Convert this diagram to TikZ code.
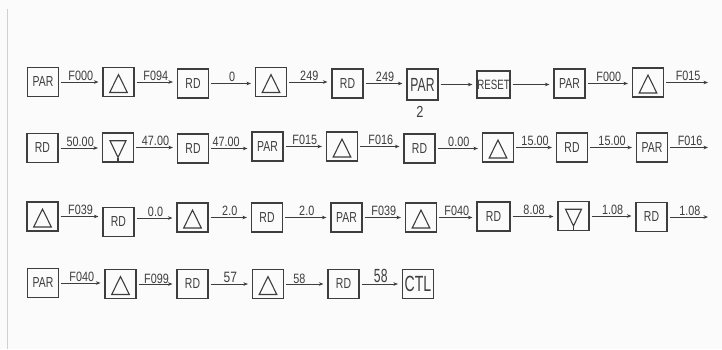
\documentclass[tikz,border=0pt]{standalone}
\usepackage{fontspec}
\setmainfont[FakeStretch=0.8]{Liberation Sans}
\newfontfamily\boxfont[FakeStretch=0.72]{Liberation Sans}
\newfontfamily\bigfont[FakeStretch=0.64]{Liberation Sans}
\usetikzlibrary{arrows.meta}
\definecolor{ink}{HTML}{3E3E3E}
\definecolor{bgc}{HTML}{FBFBFB}
\definecolor{rulec}{HTML}{D0D0D0}
\tikzset{
  bx/.style={draw=ink, line width=1.2pt, minimum width=31pt, minimum height=29pt,
    inner sep=0pt, text=ink, font=\boxfont\fontsize{14.5}{14.5}\selectfont},
  upbox/.style={bx, path picture={\draw[ink,line width=1.1pt,line join=miter]
    ([yshift=7.5pt]path picture bounding box.center)
    -- ([xshift=8.8pt,yshift=-10.5pt]path picture bounding box.center)
    -- ([xshift=-8.8pt,yshift=-10.5pt]path picture bounding box.center) -- cycle;}},
  downbox/.style={bx, path picture={\draw[ink,line width=1.1pt,line join=miter]
    ([xshift=-8pt,yshift=6.8pt]path picture bounding box.center)
    -- ([xshift=8pt,yshift=6.8pt]path picture bounding box.center)
    -- ([yshift=-10pt]path picture bounding box.center) -- cycle;
    \draw[ink,line width=1.1pt] ([yshift=-10pt]path picture bounding box.center)
    -- ([yshift=-16pt]path picture bounding box.center);}},
  bigtxt/.style={font=\bigfont\fontsize{19}{19}\selectfont},
  arr/.style={draw=ink, line width=0.8pt, -{Stealth[length=4.5pt,width=3.6pt]},
    shorten <=2pt, shorten >=4pt},
  lbl/.style={midway, above, inner sep=1pt, text=ink, font=\fontsize{13.5}{13.5}\selectfont},
}
\begin{document}
\begin{tikzpicture}[x=1pt,y=-1pt]
\useasboundingbox (0,0) rectangle (722,349);
\fill[bgc] (0,0) rectangle (722,349);
\draw[rulec, line width=1.5pt] (7.5,9) -- (7.5,349);

% Row 1
\node[bx] (a1) at (43,82) {PAR};
\node[upbox] (a2) at (118.5,82) {};
\node[bx] (a3) at (193,83.5) {RD};
\node[upbox] (a4) at (271,82) {};
\node[bx] (a5) at (347.5,83.5) {RD};
\node[bx, bigtxt, minimum height=31pt] (a6) at (422.5,84.5) {PAR};
\node[text=ink, inner sep=0pt, font=\fontsize{16}{16}\selectfont] (a6n) at (420,112) {2};
\node[bx, minimum width=33pt, minimum height=27pt, font=\boxfont\fontsize{13.5}{13.5}\selectfont] (a7) at (493.5,84.5) {RESET};
\node[bx] (a8) at (569.5,83.5) {PAR};
\node[upbox] (a9) at (648,82.5) {};
\coordinate (e1) at (712,82.5);
\draw[arr] (a1.east) -- (a1.east -| a2.west) node[lbl] {F000};
\draw[arr] (a2.east) -- (a2.east -| a3.west) node[lbl] {F094};
\draw[arr] (a3.east) -- (a3.east -| a4.west) node[lbl] {0};
\draw[arr] (a4.east) -- (a4.east -| a5.west) node[lbl] {249};
\draw[arr] (a5.east) -- (a5.east -| a6.west) node[lbl] {249};
\draw[arr] (a6.east) -- (a6.east -| a7.west);
\draw[arr] (a7.east) -- (a7.east -| a8.west);
\draw[arr] (a8.east) -- (a8.east -| a9.west) node[lbl] {F000};
\draw[arr] (a9.east) -- (a9.east -| e1) node[lbl] {F015};

% Row 2
\node[bx] (b1) at (42.5,148) {RD};
\node[downbox] (b2) at (118,147.5) {};
\node[bx] (b3) at (193,148.5) {RD};
\node[bx] (b4) at (267.5,146.5) {PAR};
\node[upbox] (b5) at (342,146.5) {};
\node[bx] (b6) at (419.5,148.5) {RD};
\node[upbox] (b7) at (498,147.5) {};
\node[bx] (b8) at (572,147.5) {RD};
\node[bx] (b9) at (652,147.5) {PAR};
\coordinate (e2) at (712,147.5);
\draw[arr] (b1.east) -- (b1.east -| b2.west) node[lbl] {50.00};
\draw[arr] (b2.east) -- (b2.east -| b3.west) node[lbl] {47.00};
\draw[arr] (b3.east) -- (b3.east -| b4.west) node[lbl, pos=0.4] {47.00};
\draw[arr] (b4.east) -- (b4.east -| b5.west) node[lbl] {F015};
\draw[arr, line width=1.2pt] (b5.east) -- (b5.east -| b6.west) node[lbl] {F016};
\draw[arr] (b6.east) -- (b6.east -| b7.west) node[lbl] {0.00};
\draw[arr] (b7.east) -- (b7.east -| b8.west) node[lbl] {15.00};
\draw[arr] (b8.east) -- (b8.east -| b9.west) node[lbl] {15.00};
\draw[arr] (b9.east) -- (b9.east -| e2) node[lbl] {F016};

% Row 3
\node[upbox] (c1) at (42.5,216.5) {};
\node[bx] (c2) at (118.5,222) {RD};
\node[upbox] (c3) at (192.5,217.5) {};
\node[bx] (c4) at (267,217.5) {RD};
\node[bx] (c5) at (346.5,217.5) {PAR};
\node[upbox] (c6) at (421,217.5) {};
\node[bx, minimum width=33pt] (c7) at (493.5,216.5) {RD};
\node[downbox] (c8) at (573.5,216) {};
\node[bx] (c9) at (651.5,217) {RD};
\coordinate (e3) at (712,217);
\draw[arr] (c1.east) -- (c1.east -| c2.west) node[lbl] {F039};
\draw[arr] (c2.east) ++(0,-4) -- ([yshift=4pt]c2.east -| c3.west) node[lbl] {0.0};
\draw[arr] (c3.east) -- (c3.east -| c4.west) node[lbl] {2.0};
\draw[arr] (c4.east) -- (c4.east -| c5.west) node[lbl] {2.0};
\draw[arr] (c5.east) -- (c5.east -| c6.west) node[lbl] {F039};
\draw[arr] (c6.east) -- (c6.east -| c7.west) node[lbl] {F040};
\draw[arr] (c7.east) -- (c7.east -| c8.west) node[lbl] {8.08};
\draw[arr] (c8.east) -- (c8.east -| c9.west) node[lbl] {1.08};
\draw[arr] (c9.east) -- (c9.east -| e3) node[lbl] {1.08};

% Row 4
\node[bx] (d1) at (43,283) {PAR};
\node[upbox] (d2) at (120.5,284) {};
\node[bx] (d3) at (192.5,284) {RD};
\node[upbox] (d4) at (268,284) {};
\node[bx] (d5) at (343.5,284) {RD};
\node[bx, font=\bigfont\fontsize{22}{22}\selectfont] (d6) at (418,284) {CTL};
\draw[arr] (d1.east) -- (d1.east -| d2.west) node[lbl] {F040};
\draw[arr] (d2.east) -- (d2.east -| d3.west) node[lbl, inner sep=0pt] {F099};
\draw[arr] (d3.east) -- (d3.east -| d4.west) node[lbl, font=\fontsize{15}{15}\selectfont] {57};
\draw[arr] (d4.east) -- (d4.east -| d5.west) node[lbl, pos=0.35, inner sep=0pt] {58};
\draw[arr] (d5.east) -- (d5.east -| d6.west) node[lbl, font=\bigfont\fontsize{19}{19}\selectfont] {58};
\end{tikzpicture}
\end{document}
